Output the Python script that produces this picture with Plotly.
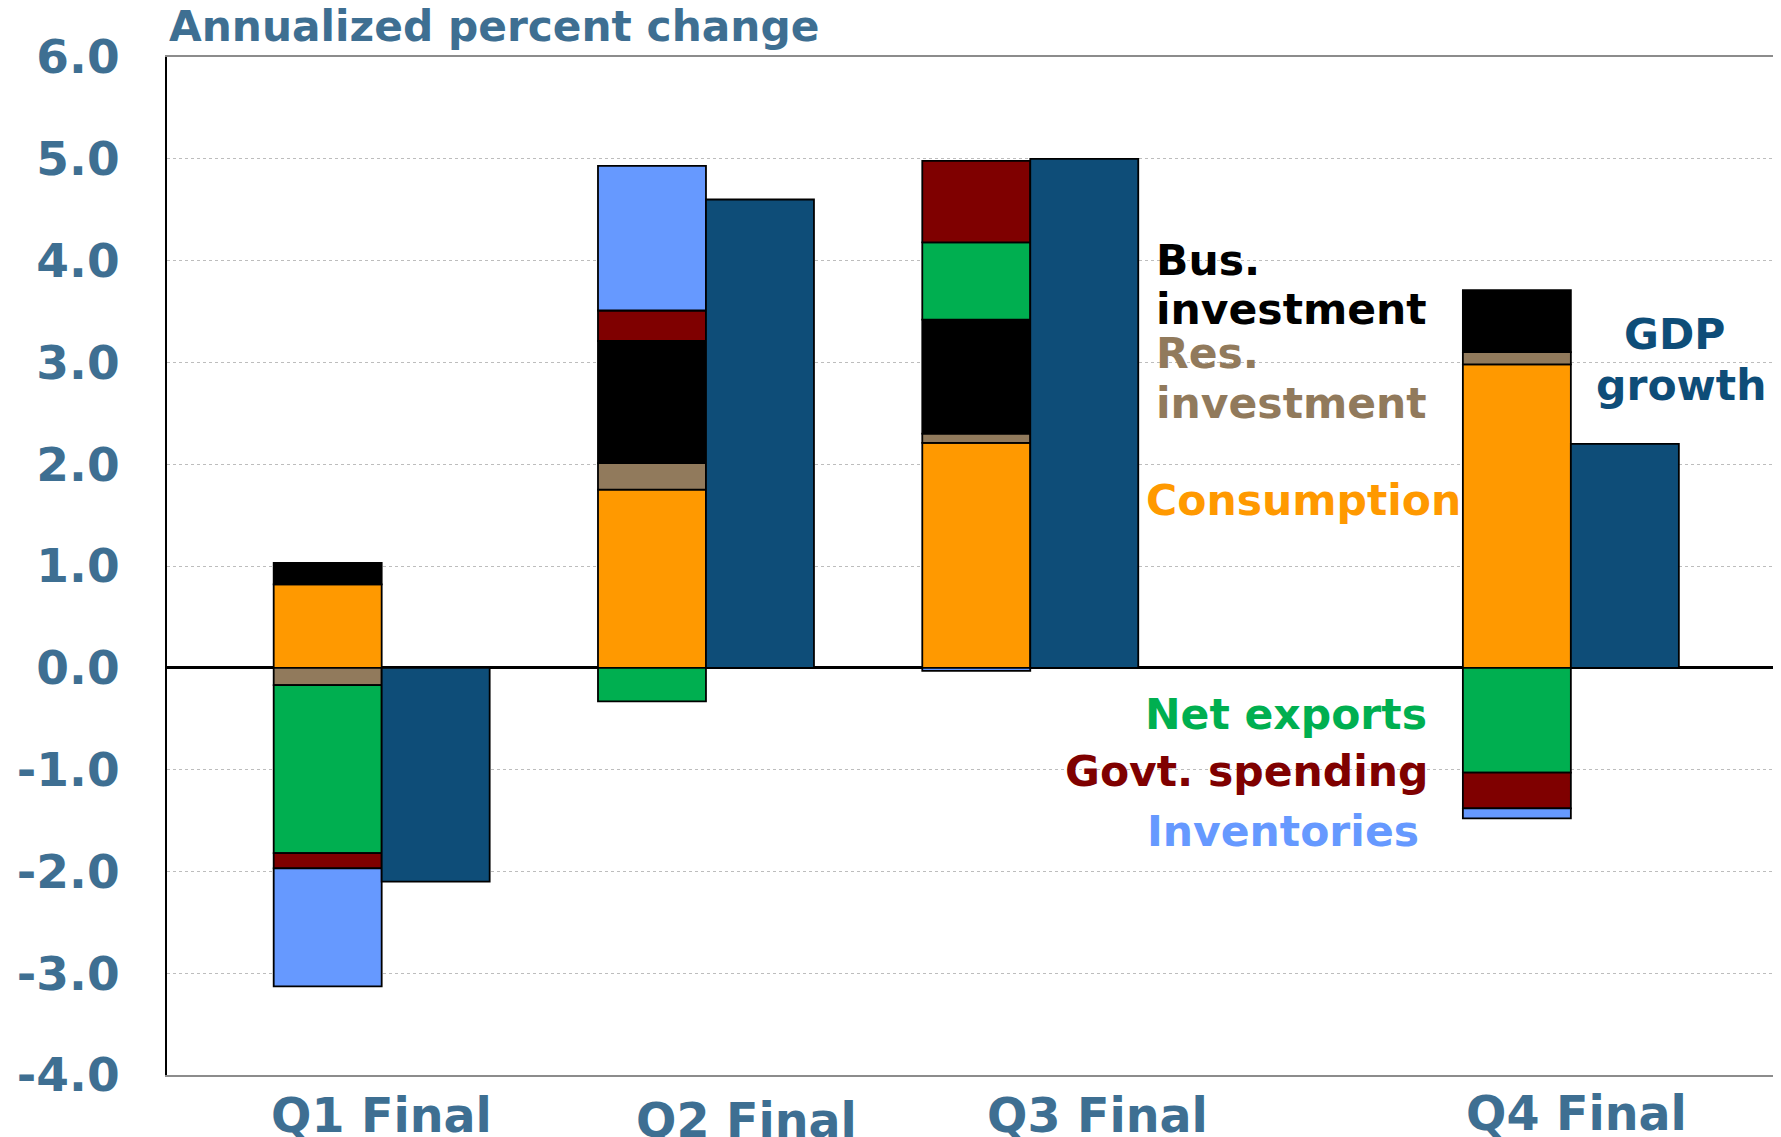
import plotly.graph_objects as go

# quarters and where they sit on the numeric x axis
quarters = ["Q1 Final", "Q2 Final", "Q3 Final", "Q4 Final"]
quarter_pos = [1.0, 2.0, 3.0, 4.667]

# contributions to growth, percentage points (annualized)
consumption = [0.82, 1.75, 2.21, 2.98]
res_investment = [-0.17, 0.26, 0.09, 0.12]
bus_investment = [0.21, 1.20, 1.12, 0.61]
net_exports = [-1.65, -0.33, 0.76, -1.03]
govt_spending = [-0.15, 0.30, 0.80, -0.35]
inventories = [-1.16, 1.42, -0.03, -0.10]
gdp_growth = [-2.1, 4.6, 5.0, 2.2]

y_ticks = [6.0, 5.0, 4.0, 3.0, 2.0, 1.0, 0.0, -1.0, -2.0, -3.0, -4.0]

FONT = "DejaVu Sans"
AXIS_BLUE = "#3E6F92"
GDP_BLUE = "#0E4D78"
BAR_W = 0.333

components = [
    ("Consumption", consumption, "#FF9900"),
    ("Res. investment", res_investment, "#917A5C"),
    ("Bus. investment", bus_investment, "#000000"),
    ("Net exports", net_exports, "#00AF50"),
    ("Govt. spending", govt_spending, "#7F0000"),
    ("Inventories", inventories, "#6699FF"),
]

fig = go.Figure()
stack_x = [p - BAR_W / 2 for p in quarter_pos]
gdp_x = [p + BAR_W / 2 for p in quarter_pos]

for name, vals, col in components:
    fig.add_trace(go.Bar(x=stack_x, y=vals, name=name, width=BAR_W,
                         marker=dict(color=col, line=dict(color="black", width=1.8))))

fig.add_trace(go.Bar(x=gdp_x, y=gdp_growth, name="GDP growth", width=BAR_W,
                     marker=dict(color=GDP_BLUE, line=dict(color="black", width=1.8))))

# series labels drawn next to the bars
labels = [
    ("Bus.", 3.38, 4.0, "left", "#000000"),
    ("investment", 3.38, 3.52, "left", "#000000"),
    ("Res.", 3.38, 3.09, "left", "#917A5C"),
    ("investment", 3.38, 2.60, "left", "#917A5C"),
    ("Consumption", 3.35, 1.64, "left", "#FF9900"),
    ("Net exports", 4.23, -0.46, "right", "#00AF50"),
    ("Govt. spending", 4.236, -1.02, "right", "#7F0000"),
    ("Inventories", 4.205, -1.61, "right", "#6699FF"),
    ("GDP", 4.987, 3.27, "center", GDP_BLUE),
    ("growth", 5.008, 2.77, "center", GDP_BLUE),
]
for txt, x, y, anchor, col in labels:
    fig.add_annotation(x=x, y=y, xref="x", yref="y", text=txt, showarrow=False,
                       xanchor=anchor, yanchor="middle",
                       font=dict(family=FONT, size=42.5, color=col, weight="bold"))

# quarter labels under the axis
label_x = [1.0, 2.124, 3.206, 4.685]
label_y = [-0.040, -0.045, -0.040, -0.038]
for q, x, y in zip(quarters, label_x, label_y):
    fig.add_annotation(x=x, y=y, xref="x", yref="paper", text=q, showarrow=False,
                       xanchor="center", yanchor="middle",
                       font=dict(family=FONT, size=47.5, color=AXIS_BLUE, weight="bold"))

fig.add_annotation(x=0, y=1.03, xref="paper", yref="paper", text="Annualized percent change",
                   showarrow=False, xanchor="left", yanchor="middle",
                   font=dict(family=FONT, size=42.3, color=AXIS_BLUE, weight="bold"))

# page body has an 8px margin, so the figure is trimmed by that much
fig.update_layout(
    width=1773, height=1129,
    margin=dict(l=159, r=0, t=49, b=62),
    barmode="relative",
    showlegend=False,
    plot_bgcolor="white", paper_bgcolor="white",
    xaxis=dict(range=[0.338, 5.315], showticklabels=False, showgrid=False, zeroline=False,
               showline=True, linecolor="#8C8C8C", linewidth=2, mirror=True, ticks=""),
    yaxis=dict(range=[-4.0, 6.0], tickvals=y_ticks, ticktext=[f"{v:.1f}" for v in y_ticks],
               tickfont=dict(family=FONT, size=47, color=AXIS_BLUE, weight="bold"),
               showgrid=True, gridcolor="#BDBDBD", griddash="dot", gridwidth=1,
               zeroline=True, zerolinecolor="black", zerolinewidth=3,
               showline=True, linecolor="black", linewidth=2, ticks="",
               ticklabelstandoff=36),
)

fig.write_html("out.html")
